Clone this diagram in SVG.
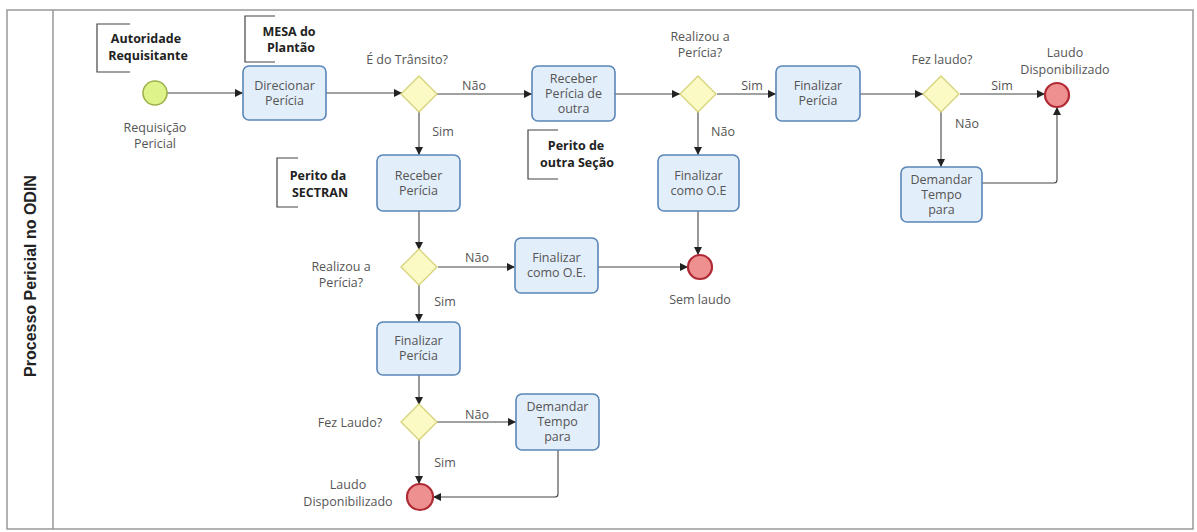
<svg xmlns="http://www.w3.org/2000/svg" width="1197" height="532" viewBox="0 0 1197 532">
<defs>
<marker id="arr" viewBox="0 0 10 10" refX="10" refY="5" markerWidth="8" markerHeight="8" markerUnits="userSpaceOnUse" orient="auto">
<path d="M0,0 L10,5 L0,10 z" fill="#222"/>
</marker>
</defs>
<style>
text{font-family:"Open Sans","DejaVu Sans",sans-serif;font-size:12.5px;fill:#555;text-anchor:middle}
.ann{font-weight:bold;font-size:12.5px;fill:#222}
.title{font-family:"Liberation Sans",Arial,sans-serif;font-weight:bold;font-size:16px;fill:#222}
.task{fill:#e3eefb;stroke:#5a86b8;stroke-width:1.6}
.gw{fill:#fbf9c4;stroke:#d6d27a;stroke-width:1.3}
.end{fill:#ef9090;stroke:#b02a35;stroke-width:2.2}
.start{fill:#def48a;stroke:#9db24a;stroke-width:1.6}
.br{fill:none;stroke:#444;stroke-width:1.2}
.c{fill:none;stroke:#444;stroke-width:1.1;marker-end:url(#arr)}
</style>
<rect x="0" y="0" width="1197" height="532" fill="#fff"/>
<g id="pool">
<rect x="7" y="10" width="1186" height="519" fill="#fff" stroke="#999" stroke-width="1.5"/>
<line x1="53" y1="10" x2="53" y2="529" stroke="#999" stroke-width="1.5"/>
<text class="title" transform="translate(36,276) rotate(-90)">Processo Pericial no ODIN</text>
</g>
<g id="connectors">
<path class="c" d="M167,93 H243"/>
<path class="c" d="M326,93 H402"/>
<path class="c" d="M436,94 H532"/>
<text x="474" y="90">Não</text>
<path class="c" d="M615,94 H680"/>
<path class="c" d="M717,94 H776"/>
<text x="752" y="90">Sim</text>
<path class="c" d="M860,94 H923"/>
<path class="c" d="M960,94 H1045"/>
<text x="1002" y="90">Sim</text>
<path class="c" d="M941,112 V167"/>
<text x="967" y="128">Não</text>
<path class="c" d="M982,183 H1054 Q1057,183 1057,180 V107"/>
<path class="c" d="M698,112 V155"/>
<text x="723" y="136">Não</text>
<path class="c" d="M698,211 V255"/>
<path class="c" d="M419,112 V155"/>
<text x="443" y="136">Sim</text>
<path class="c" d="M419,211 V250"/>
<path class="c" d="M438,267 H515"/>
<text x="477" y="262">Não</text>
<path class="c" d="M598,267 H688"/>
<path class="c" d="M419,285 V322"/>
<text x="445" y="306">Sim</text>
<path class="c" d="M419,375 V405"/>
<path class="c" d="M437,422 H516"/>
<text x="477" y="419">Não</text>
<path class="c" d="M419,440 V484"/>
<text x="445" y="467">Sim</text>
<path class="c" d="M558,450 V494 Q558,497 555,497 H433"/>
</g>
<g id="ann-autoridade">
<path class="br" d="M130,24 H97 V72 H130"/>
<text class="ann" x="146" y="43">Autoridade</text>
<text class="ann" x="148" y="60">Requisitante</text>
</g>
<g id="ann-mesa">
<path class="br" d="M275,16 H245 V62 H275"/>
<text class="ann" x="289" y="36">MESA do</text>
<text class="ann" x="291" y="52">Plantão</text>
</g>
<g id="ann-sectran">
<path class="br" d="M298,158 H277 V207 H298"/>
<text class="ann" x="318" y="180">Perito da</text>
<text class="ann" x="320" y="197">SECTRAN</text>
</g>
<g id="ann-outra">
<path class="br" d="M558,130 H528 V179 H558"/>
<text class="ann" x="576" y="150">Perito de</text>
<text class="ann" x="577" y="167">outra Seção</text>
</g>
<g id="start">
<circle class="start" cx="155" cy="93" r="12"/>
<text x="155" y="132">Requisição</text>
<text x="155" y="148">Pericial</text>
</g>
<g id="direcionar">
<rect class="task" x="243" y="66" width="83" height="54" rx="6"/>
<text x="284.5" y="90">Direcionar</text>
<text x="284.5" y="105">Perícia</text>
</g>
<g id="gw-transito">
<path class="gw" d="M419,76 L437,94 L419,112 L401,94 z"/>
<text x="407" y="64">É do Trânsito?</text>
</g>
<g id="receber-outra">
<rect class="task" x="532" y="66" width="83" height="55" rx="6"/>
<text x="573.5" y="83">Receber</text>
<text x="573.5" y="98">Perícia de</text>
<text x="573.5" y="113">outra</text>
</g>
<g id="gw-realizou-top">
<path class="gw" d="M698,76 L716,94 L698,112 L680,94 z"/>
<text x="700" y="41">Realizou a</text>
<text x="700" y="57">Perícia?</text>
</g>
<g id="finalizar-oe-top">
<rect class="task" x="658" y="155" width="81" height="56" rx="6"/>
<text x="698.5" y="180">Finalizar</text>
<text x="698.5" y="195">como O.E</text>
</g>
<g id="finalizar-pericia-top">
<rect class="task" x="776" y="66" width="84" height="55" rx="6"/>
<text x="818" y="90">Finalizar</text>
<text x="818" y="105">Perícia</text>
</g>
<g id="gw-fezlaudo-top">
<path class="gw" d="M941,76 L959,94 L941,112 L923,94 z"/>
<text x="942" y="64">Fez laudo?</text>
</g>
<g id="end-top">
<circle class="end" cx="1057" cy="95" r="12"/>
<text x="1065" y="57">Laudo</text>
<text x="1065" y="74">Disponibilizado</text>
</g>
<g id="demandar-top">
<rect class="task" x="901" y="167" width="81" height="55" rx="6"/>
<text x="941.5" y="184">Demandar</text>
<text x="941.5" y="199">Tempo</text>
<text x="941.5" y="214">para</text>
</g>
<g id="receber-pericia">
<rect class="task" x="377" y="155" width="83" height="56" rx="6"/>
<text x="418.5" y="180">Receber</text>
<text x="418.5" y="195">Perícia</text>
</g>
<g id="gw-realizou-mid">
<path class="gw" d="M419,249 L437,267 L419,285 L401,267 z"/>
<text x="341" y="271">Realizou a</text>
<text x="341" y="287">Perícia?</text>
</g>
<g id="finalizar-oe-mid">
<rect class="task" x="515" y="238" width="83" height="55" rx="6"/>
<text x="556.5" y="262">Finalizar</text>
<text x="556.5" y="277">como O.E.</text>
</g>
<g id="end-semlaudo">
<circle class="end" cx="700" cy="267" r="12"/>
<text x="700" y="304">Sem laudo</text>
</g>
<g id="finalizar-pericia-mid">
<rect class="task" x="377" y="322" width="83" height="53" rx="6"/>
<text x="418.5" y="345">Finalizar</text>
<text x="418.5" y="360">Perícia</text>
</g>
<g id="gw-fezlaudo-mid">
<path class="gw" d="M419,404 L437,422 L419,440 L401,422 z"/>
<text x="350" y="427">Fez Laudo?</text>
</g>
<g id="demandar-mid">
<rect class="task" x="516" y="394" width="83" height="56" rx="6"/>
<text x="557.5" y="411">Demandar</text>
<text x="557.5" y="426">Tempo</text>
<text x="557.5" y="441">para</text>
</g>
<g id="end-bottom">
<circle class="end" cx="420" cy="497" r="13"/>
<text x="348" y="489">Laudo</text>
<text x="348" y="506">Disponibilizado</text>
</g>
</svg>
